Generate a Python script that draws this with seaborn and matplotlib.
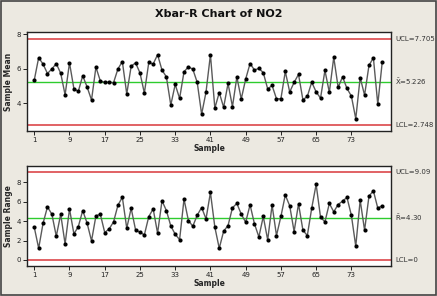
import matplotlib
matplotlib.use("Agg")
import matplotlib.pyplot as plt
import matplotlib.transforms as mtransforms
from matplotlib.patches import Rectangle
import numpy as np
import pandas as pd
import seaborn as sns

# ---- data ----
sample_mean = [5.35, 6.65, 6.27, 5.73, 6.0, 6.3, 5.75, 4.5, 6.35, 4.85,
               4.7, 5.6, 4.95, 4.2, 6.1, 5.3, 5.22, 5.22, 5.2, 6.0,
               6.42, 4.55, 6.15, 6.35, 5.77, 4.6, 6.37, 6.28, 6.82, 5.93,
               5.54, 3.91, 5.1, 4.29, 5.83, 6.12, 5.98, 5.22, 3.38, 4.66,
               6.82, 3.73, 4.63, 3.78, 5.16, 3.82, 5.53, 4.26, 5.41, 6.31,
               5.93, 6.03, 5.78, 4.84, 5.04, 4.27, 4.27, 5.85, 4.66, 5.22,
               5.68, 4.21, 4.41, 5.23, 4.67, 4.31, 5.91, 4.64, 6.67, 4.93,
               5.54, 4.87, 4.43, 3.12, 5.5, 4.48, 6.2, 6.64, 3.95, 6.37]
sample_range = [3.36, 1.2, 3.78, 5.46, 4.7, 2.44, 4.7, 1.65, 5.25, 2.68,
                3.43, 5.08, 3.78, 1.96, 4.53, 4.7, 2.82, 3.19, 3.91, 5.63,
                6.45, 3.26, 5.32, 3.09, 2.85, 2.58, 4.46, 5.25, 2.75, 6.08,
                5.08, 3.5, 2.64, 2.09, 6.25, 4.05, 3.47, 4.6, 5.39, 4.22,
                6.94, 3.38, 1.2, 2.96, 3.54, 5.36, 5.81, 4.71, 3.88, 5.67,
                3.71, 2.37, 4.47, 2.06, 5.64, 2.51, 4.47, 6.67, 5.57, 2.92,
                5.77, 3.06, 2.51, 5.33, 7.77, 4.40, 3.92, 5.81, 4.95, 5.7,
                6.05, 6.43, 4.6, 1.41, 6.15, 3.06, 6.56, 7.11, 5.33, 5.57]
samples = list(range(1, 81))
xbar_limits = {"UCL": 7.705, "CL": 5.226, "LCL": 2.748}
r_limits = {"UCL": 9.09, "CL": 4.30, "LCL": 0.0}
xticks = [1, 9, 17, 25, 33, 41, 49, 57, 65, 73]
mean_yticks = [4, 6, 8]
range_yticks = [0, 2, 4, 6, 8]
title = "Xbar-R Chart of NO2"

df = pd.DataFrame({"Sample": samples, "Mean": sample_mean, "Range": sample_range})

sns.set_theme(style="white")
plt.rcParams["font.family"] = ["DejaVu Sans"]

bg = "#ECE9E1"
W, H = 437, 296
fig = plt.figure(figsize=(W / 100, H / 100), dpi=100, facecolor=bg)

ax1 = fig.add_axes([27 / W, 1 - 131 / H, 364 / W, 99 / H])
ax2 = fig.add_axes([27 / W, 1 - 266 / H, 364 / W, 100 / H])

red = "#D8373A"
green = "#2ECC2E"

def draw(ax, col, lims, ylim, yticks, ylabel, cl_label, ucl_label, lcl_label):
    ax.set_facecolor("white")
    ax.axhline(lims["UCL"], color=red, lw=1.1, zorder=1)
    ax.axhline(lims["LCL"], color=red, lw=1.1, zorder=1)
    ax.axhline(lims["CL"], color=green, lw=1.0, zorder=1)
    sns.lineplot(data=df, x="Sample", y=col, ax=ax, color="#5a5a5a", lw=1.0, zorder=2)
    sns.scatterplot(data=df, x="Sample", y=col, ax=ax, color="black", s=9,
                    edgecolor="black", linewidth=0, zorder=3)
    ax.set_xlim(-0.65, 82.0)
    ax.set_ylim(*ylim)
    ax.set_xticks(xticks)
    ax.set_yticks(yticks)
    ax.tick_params(axis="both", labelsize=5, length=3, width=0.7, pad=1.5,
                   colors="#222222", bottom=True, left=True, direction="out")
    ax.set_xlabel("Sample", fontsize=5.5, fontweight="bold", labelpad=0.5)
    ax.set_ylabel(ylabel, fontsize=5.5, fontweight="bold", labelpad=2)
    for s in ax.spines.values():
        s.set_color("#222222")
        s.set_linewidth(1.0)
    tr = mtransforms.blended_transform_factory(ax.transAxes, ax.transData)
    kw = dict(transform=tr, fontsize=5, va="center", ha="left", color="#333333")
    ax.text(1.012, lims["UCL"], ucl_label, **kw)
    ax.text(1.012, lims["CL"], cl_label, **kw)
    ax.text(1.012, lims["LCL"], lcl_label, **kw)

draw(ax1, "Mean", xbar_limits, (2.41, 8.13), mean_yticks, "Sample Mean",
     r"$\bar{\mathrm{X}}$=5.226", "UCL=7.705", "LCL=2.748")
draw(ax2, "Range", r_limits, (-0.62, 9.66), range_yticks, "Sample Range",
     r"$\bar{\mathrm{R}}$=4.30", "UCL=9.09", "LCL=0")

fig.text(0.5, 1 - 14 / H, title, ha="center", va="center", fontsize=8,
         fontweight="bold", color="#111111")

fig.patches.append(Rectangle((0.002, 0.003), 0.996, 0.994, transform=fig.transFigure,
                             fill=False, edgecolor="#444444", linewidth=1.2))

fig.savefig("out.png", dpi=100, facecolor=bg)
